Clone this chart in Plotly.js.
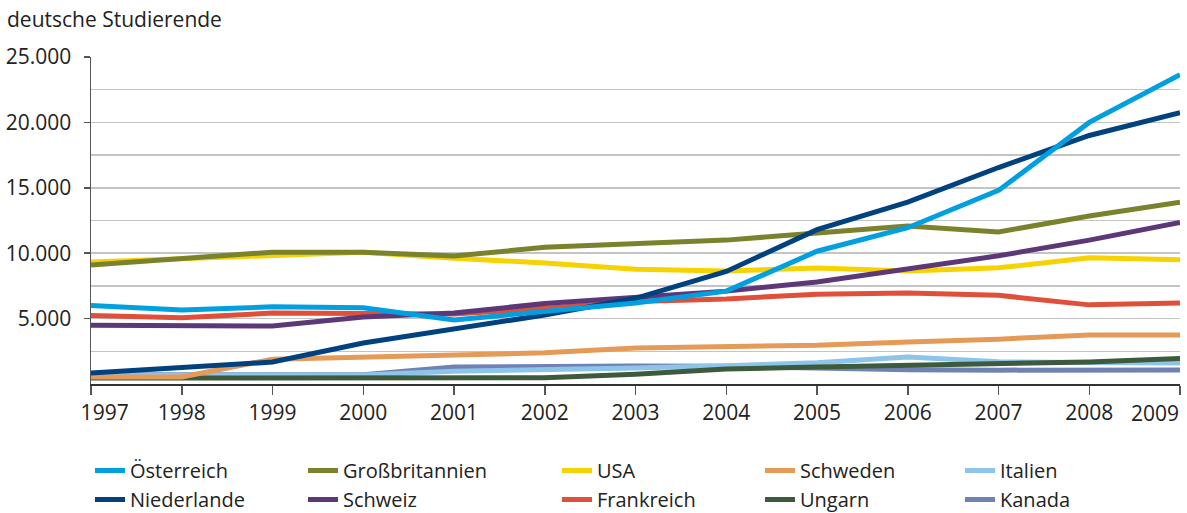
<!DOCTYPE html>
<html>
<head>
<meta charset="utf-8">
<script src="https://cdn.plot.ly/plotly-3.0.1.min.js"></script>
<style>html,body{margin:0;padding:0;background:#fff;}#chart{width:1187px;height:513px;}</style>
</head>
<body>
<div id="chart"></div>
<script>
const years = [1997,1998,1999,2000,2001,2002,2003,2004,2005,2006,2007,2008,2009];
const yearLabels = ["1997","1998","1999","2000","2001","2002","2003","2004","2005","2006","2007","2008","2009"];

const oesterreich    = [6000,5650,5900,5820,4900,5580,6200,7100,10150,11950,14800,20000,23650];
const niederlande    = [850,1300,1680,3130,4200,5280,6550,8600,11800,13900,16550,19000,20750];
const grossbritannien= [9100,9550,10080,10080,9780,10450,10700,11000,11550,12080,11620,12850,13900];
const usa            = [9320,9560,9780,10080,9620,9250,8780,8640,8860,8640,8880,9650,9500];
const schweiz        = [4500,4500,4430,5120,5430,6150,6650,7100,7800,8800,9800,11000,12350];
const frankreich     = [5230,5070,5420,5350,5350,5800,6300,6500,6870,6950,6780,6050,6190];
const schweden       = [530,530,1900,2050,2280,2380,2760,2830,2960,3220,3430,3750,3750];
const ungarn         = [450,450,450,450,450,480,750,1150,1300,1420,1550,1680,1950];
const italien        = [680,680,680,680,980,1070,1230,1400,1620,2060,1700,1650,1600];
const kanada         = [700,700,700,700,1300,1370,1380,1360,1180,1080,1060,1070,1070];

const countryNames = ["Österreich","Niederlande","Großbritannien","Schweiz","USA","Frankreich","Schweden","Ungarn","Italien","Kanada"];
const yTickVals = [5000,10000,15000,20000,25000];
const yTickText = ["5.000","10.000","15.000","20.000","25.000"];

const FONT = "'Open Sans', 'DejaVu Sans', sans-serif";

function tr(name, y, color, legend, rank) {
  return {type:'scatter', mode:'lines', x:years, y:y, name:name,
    line:{color:color, width:5}, legend:legend, legendrank:rank, hoverinfo:'skip'};
}

// drawing order (bottom first)
const traces = [
  tr(countryNames[9], kanada, '#6f82b3', 'legend5', 2),
  tr(countryNames[8], italien, '#8cc4ea', 'legend5', 1),
  tr(countryNames[7], ungarn, '#3d5a3c', 'legend4', 2),
  tr(countryNames[6], schweden, '#e59a58', 'legend4', 1),
  tr(countryNames[5], frankreich, '#e04f3a', 'legend3', 2),
  tr(countryNames[4], usa, '#f6d200', 'legend3', 1),
  tr(countryNames[3], schweiz, '#5c3878', 'legend2', 2),
  tr(countryNames[2], grossbritannien, '#7a822c', 'legend2', 1),
  tr(countryNames[1], niederlande, '#00427f', 'legend', 2),
  tr(countryNames[0], oesterreich, '#00a0e0', 'legend', 1)
];

function leg(px){
  return {xref:'container', yref:'container', x:px/1187, y:1-451/513, xanchor:'left', yanchor:'top', orientation:'v',
    font:{family:FONT, size:20, color:'#222'}, itemwidth:30, tracegroupgap:0,
    bgcolor:'rgba(0,0,0,0)', traceorder:'normal'};
}

const lastIdx = years.length - 1;

const layout = {
  width:1187, height:513,
  margin:{l:91, r:7, t:57, b:129, autoexpand:false},
  paper_bgcolor:'#fff', plot_bgcolor:'#fff',
  font:{family:FONT, size:21, color:'#222'},
  title:{text:'deutsche Studierende', xref:'container', yref:'container', x:7/1187, xanchor:'left',
    y:1-20/513, yanchor:'middle', font:{family:FONT, size:21, color:'#222'}},
  showlegend:true,
  legend:leg(90), legend2:leg(303), legend3:leg(557), legend4:leg(760), legend5:leg(960),
  annotations:[{text:yearLabels[lastIdx], x:years[lastIdx], xref:'x', y:-29/327, yref:'paper',
    xanchor:'right', yanchor:'middle', showarrow:false, borderpad:0,
    font:{family:FONT, size:21, color:'#222'}}],
  xaxis:{range:[1997,2009], tickvals:years,
    ticktext:yearLabels.map((t,i)=> i===0 ? '\u00a0\u00a0\u00a0\u00a0\u00a0'+t : (i===lastIdx ? '' : t)),
    showgrid:false, zeroline:false, showline:true, linecolor:'#333', linewidth:1.5,
    ticks:'outside', ticklen:9, tickcolor:'#555', tickwidth:1.5,
    tickfont:{family:FONT, size:21, color:'#222'}, fixedrange:true, automargin:false},
  yaxis:{range:[0,25000], tickvals:yTickVals, ticktext:yTickText,
    showgrid:true, gridcolor:'#c4c4c4', gridwidth:1.5,
    minor:{dtick:2500, tick0:0, showgrid:true, gridcolor:'#c4c4c4', gridwidth:1.5, ticks:''},
    zeroline:false, showline:true, linecolor:'#555', linewidth:1.5,
    ticks:'outside', ticklen:6, tickcolor:'#555', tickwidth:1.5,
    ticklabelstandoff:8,
    tickfont:{family:FONT, size:21, color:'#222'}, fixedrange:true, automargin:false}
};

Plotly.newPlot('chart', traces, layout, {displayModeBar:false, staticPlot:true});
</script>
</body>
</html>
